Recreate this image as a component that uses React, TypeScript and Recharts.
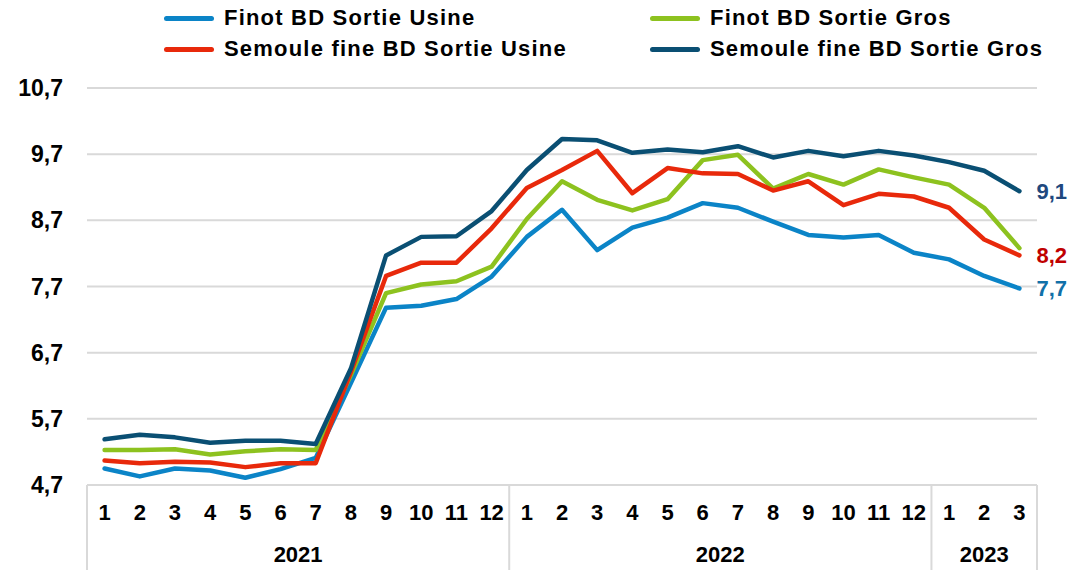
import React from "react"
import { LineChart, Line, XAxis, YAxis, CartesianGrid, LabelList } from "recharts"

// month labels along the x axis, grouped by year below
const monthLabels = [
  "1", "2", "3", "4", "5", "6", "7", "8", "9", "10", "11", "12",
  "1", "2", "3", "4", "5", "6", "7", "8", "9", "10", "11", "12",
  "1", "2", "3",
]
const yearLabels = ["2021", "2022", "2023"]
const yearSpans = [12, 12, 3]

const yTicks = [4.7, 5.7, 6.7, 7.7, 8.7, 9.7, 10.7]

// values
const finotUsine = [4.95, 4.83, 4.95, 4.92, 4.81, 4.94, 5.11, 6.24, 7.38, 7.41, 7.51, 7.85, 8.45, 8.86, 8.25, 8.59, 8.74, 8.96, 8.89, 8.68, 8.48, 8.44, 8.48, 8.21, 8.11, 7.86, 7.67]
const finotGros = [5.23, 5.23, 5.24, 5.16, 5.21, 5.24, 5.23, 6.36, 7.6, 7.73, 7.78, 8.0, 8.72, 9.29, 9.01, 8.85, 9.02, 9.61, 9.69, 9.18, 9.4, 9.24, 9.47, 9.35, 9.24, 8.89, 8.28]
const semouleUsine = [5.07, 5.03, 5.05, 5.04, 4.97, 5.03, 5.03, 6.41, 7.86, 8.06, 8.06, 8.58, 9.19, 9.46, 9.75, 9.11, 9.49, 9.41, 9.4, 9.15, 9.29, 8.93, 9.1, 9.06, 8.89, 8.41, 8.17]
const semouleGros = [5.39, 5.46, 5.42, 5.34, 5.37, 5.37, 5.32, 6.46, 8.17, 8.45, 8.46, 8.84, 9.46, 9.93, 9.91, 9.72, 9.77, 9.73, 9.82, 9.65, 9.75, 9.67, 9.75, 9.68, 9.58, 9.45, 9.14]

const series = [
  { key: "finotUsine", name: "Finot BD Sortie Usine", color: "#0B84C7", labelColor: "#1170A8", values: finotUsine, endLabel: true },
  { key: "finotGros", name: "Finot BD Sortie Gros", color: "#8DC21F", labelColor: "#8DC21F", values: finotGros, endLabel: false },
  { key: "semouleUsine", name: "Semoule fine BD Sortie Usine", color: "#E8290B", labelColor: "#C00000", values: semouleUsine, endLabel: true },
  { key: "semouleGros", name: "Semoule fine BD Sortie Gros", color: "#0A4F73", labelColor: "#20487E", values: semouleGros, endLabel: true },
]

const data = monthLabels.map((m, i) => {
  const row: Record<string, any> = { idx: i, month: m }
  series.forEach((s) => { row[s.key] = s.values[i] })
  return row
})

const FONT = "'Liberation Sans', Arial, sans-serif"
const W = 1072
const H = 570
const MARGIN = { top: 88, right: 35, left: 0, bottom: 0 }
const Y_W = 87
const X_H = 85
const PLOT_W = W - MARGIN.left - MARGIN.right - Y_W
const BAND = PLOT_W / monthLabels.length
const GRID = "#d9d9d9"

const fmt = (v: number) => v.toFixed(1).replace(".", ",")

const XTick = (props: any) => {
  const { x, y, index } = props
  const parts: React.ReactNode[] = [
    <text key="m" x={x} y={y + 35} textAnchor="middle" fontSize={22} fontWeight="bold" fontFamily={FONT} fill="#000">
      {monthLabels[index]}
    </text>,
  ]
  let start = 0
  yearLabels.forEach((yr, g) => {
    if (index === start) {
      const left = x - BAND / 2
      parts.push(<line key={"l" + g} x1={left} x2={left} y1={y} y2={H} stroke={GRID} strokeWidth={2} />)
      parts.push(
        <text key={"y" + g} x={left + (yearSpans[g] * BAND) / 2} y={y + 77} textAnchor="middle" fontSize={22} fontWeight="bold" fontFamily={FONT} fill="#000">
          {yr}
        </text>
      )
    }
    start += yearSpans[g]
  })
  if (index === monthLabels.length - 1) {
    const right = x + BAND / 2
    parts.push(<line key="r" x1={right} x2={right} y1={y} y2={H} stroke={GRID} strokeWidth={2} />)
  }
  return <g>{parts}</g>
}

const endLabel = (color: string) => (props: any) => {
  const { x, y, index, value } = props
  if (index !== monthLabels.length - 1) return null
  return (
    <text x={x + 17} y={y} dominantBaseline="central" fontSize={22} fontWeight="bold" fontFamily={FONT} fill={color}>
      {fmt(value)}
    </text>
  )
}

const Legend4 = () => (
  <div
    style={{
      position: "absolute",
      left: 164,
      top: 6,
      display: "grid",
      gridTemplateColumns: "486px 400px",
      rowGap: 7,
      fontFamily: FONT,
      fontWeight: "bold",
      fontSize: 22,
      letterSpacing: "1.2px",
      color: "#000",
      lineHeight: "24px",
    }}
  >
    {series.map((s) => (
      <div key={s.key} style={{ display: "flex", alignItems: "center" }}>
        <span style={{ display: "inline-block", width: 50, height: 5, borderRadius: 3, background: s.color, marginRight: 10 }} />
        <span>{s.name}</span>
      </div>
    ))}
  </div>
)

export default function App() {
  return (
    <div style={{ position: "absolute", left: 0, top: 0, width: W, height: H, background: "#fff" }}>
      <LineChart width={W} height={H} data={data} margin={MARGIN}>
        <CartesianGrid vertical={false} stroke={GRID} strokeWidth={2} />
        <XAxis
          dataKey="idx"
          type="category"
          interval={0}
          height={X_H}
          padding={{ left: BAND / 2, right: BAND / 2 }}
          tickSize={0}
          tickMargin={0}
          tickLine={false}
          axisLine={{ stroke: GRID, strokeWidth: 2 }}
          tick={<XTick />}
        />
        <YAxis
          width={Y_W}
          domain={[4.7, 10.7]}
          ticks={yTicks}
          interval={0}
          axisLine={false}
          tickLine={false}
          tickSize={0}
          tickMargin={24}
          tickFormatter={fmt}
          tick={{ fontSize: 23, fontWeight: "bold", fontFamily: FONT, fill: "#000" }}
        />
        {series.map((s) => (
          <Line
            key={s.key}
            dataKey={s.key}
            name={s.name}
            stroke={s.color}
            strokeWidth={4.5}
            strokeLinecap="round"
            strokeLinejoin="round"
            dot={false}
            isAnimationActive={false}
          >
            {s.endLabel && <LabelList dataKey={s.key} content={endLabel(s.labelColor)} />}
          </Line>
        ))}
      </LineChart>
      <Legend4 />
    </div>
  )
}
